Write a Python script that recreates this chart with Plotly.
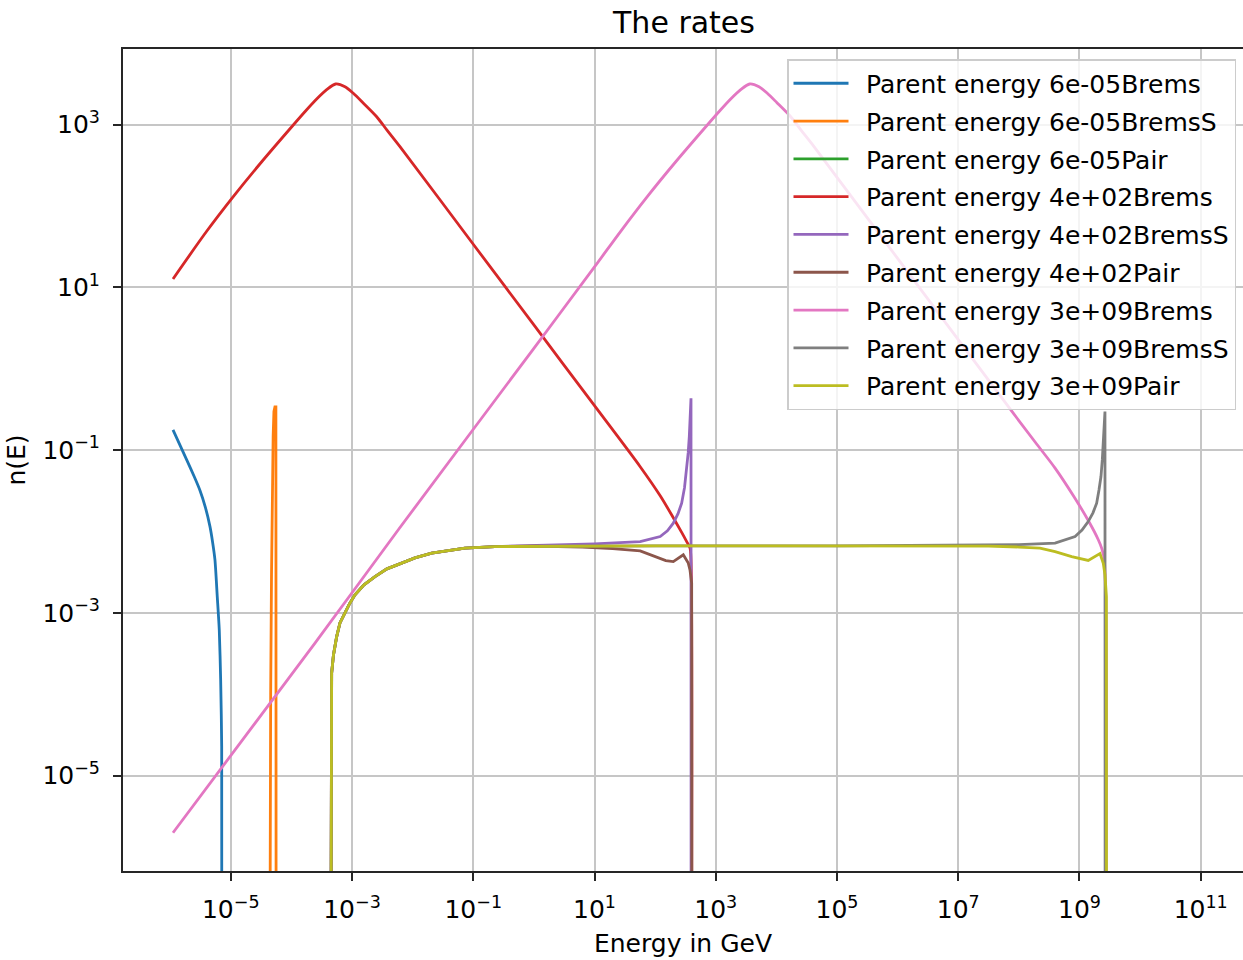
import plotly.graph_objects as go

# ---- spectra: energy (GeV) and n(E) for each parent energy / process ----
brems_6e05_E = [1.114e-6, 1.875e-6, 2.512e-6, 3.105e-6, 3.80e-6, 4.539e-6, 5.012e-6, 5.483e-6, 5.984e-6,
                6.457e-6, 6.808e-6, 7.079e-6, 7.112e-6]
brems_6e05_n = [0.1774, 0.0760, 0.0468, 0.0320, 0.0200, 0.01151, 7.41e-3, 4.487e-3, 1.589e-3,
                6.19e-4, 1.507e-4, 2.29e-5, 1e-8]

bremsS_6e05_E = [4.40e-5, 4.45e-5, 4.55e-5, 4.70e-5, 4.85e-5, 5.00e-5, 5.15e-5, 5.35e-5, 5.55e-5, 5.60e-5]
bremsS_6e05_n = [1e-8, 1e-6, 1e-4, 3e-3, 3e-2, 0.15, 0.30, 0.34, 0.34, 1e-8]

# no pair production below threshold: the rate is zero everywhere
pair_6e05_E = [1.114e-6, 7.112e-6]
pair_6e05_n = [0.0, 0.0]

brems_4e02_E = [1.114e-6, 4.0e-6, 1.099e-5, 3.162e-5, 1.074e-4, 1.698e-4, 2.612e-4, 3.819e-4, 5.370e-4,
                7.656e-4, 1.050e-3, 1.514e-3, 2.553e-3, 3.802e-3, 6.18e-3, 0.1, 1.0, 10.0, 56.75, 121.3,
                199.5, 274.2, 331.9, 375.8, 390.8, 398.1]
brems_4e02_n = [12.71, 48.98, 130.6, 342.8, 990.8, 1462, 2065, 2692, 3162,
                2931, 2432, 1862, 1253, 851.1, 537.0, 33.96, 3.459, 0.3524, 0.06266, 0.02754,
                0.01479, 9.772e-3, 7.53e-3, 6.310e-3, 4.467e-3, 1e-8]

# common low-energy onset of the pair / BremsS spectra
onset_E = [4.467e-4, 4.550e-4, 4.613e-4, 4.943e-4, 5.585e-4, 6.324e-4, 7.656e-4, 9.078e-4, 1.119e-3,
           1.574e-3, 2.393e-3, 3.767e-3, 6.592e-3, 0.01091, 0.02061, 0.03819, 0.07295, 0.2280]
onset_n = [1e-8, 3.162e-5, 1.820e-4, 3.048e-4, 5.129e-4, 7.551e-4, 9.954e-4, 1.294e-3, 1.667e-3,
           2.213e-3, 2.799e-3, 3.483e-3, 4.093e-3, 4.753e-3, 5.433e-3, 5.875e-3, 6.252e-3, 6.546e-3]

bremsS_4e02_E = onset_E + [1.0, 10.0, 56.75, 121.3, 159.6, 199.5, 238.8, 274.2, 305.5, 331.9, 351.6,
                           366.4, 386.4, 390.8, 392.6]
bremsS_4e02_n = onset_n + [6.761e-3, 7.079e-3, 7.534e-3, 8.690e-3, 0.01023, 0.01268, 0.01660, 0.02234,
                           0.03467, 0.05728, 0.09333, 0.1469, 0.3776, 0.4355, 1e-8]

pair_4e02_E = onset_E + [1.0, 6.31, 19.95, 56.75, 100.0, 150.0, 199.5, 257.0, 291.7, 352.4, 375.8, 400.9, 403.6]
pair_4e02_n = onset_n + [6.637e-3, 6.457e-3, 6.166e-3, 5.781e-3, 4.90e-3, 4.40e-3, 4.276e-3, 4.786e-3, 5.176e-3,
                         4.093e-3, 3.388e-3, 2.323e-3, 1e-8]

brems_3e09_E = [1.114e-6, 2.449e-4, 6.18e-3, 1.0, 10.0, 27.04, 74.3, 213.8, 726.1, 1148, 1766, 2582, 3631,
                5176, 7096, 10230, 17260, 25700, 41780, 1.0e6, 8.091e7, 1.995e8, 3.963e8, 7.943e8,
                1.413e9, 2.046e9, 2.323e9, 2.564e9, 2.661e9]
brems_3e09_n = [1.991e-6, 4.256e-4, 0.01122, 1.786, 17.86, 48.98, 130.6, 342.8, 990.8, 1462, 2065, 2692, 3162,
                2931, 2432, 1862, 1253, 851.1, 537.0, 22.75, 0.2851, 0.1175, 0.06026, 0.02754,
                0.01349, 7.943e-3, 6.252e-3, 4.519e-3, 1e-8]

bremsS_3e09_E = onset_E + [100.0, 1e5, 3.162e7, 1e8, 3.963e8, 8.472e8, 1.102e9, 1.396e9, 1.671e9, 1.923e9,
                           2.099e9, 2.265e9, 2.382e9, 2.472e9, 2.636e9, 2.655e9]
bremsS_3e09_n = onset_n + [6.683e-3, 6.683e-3, 6.839e-3, 6.918e-3, 7.211e-3, 8.690e-3, 0.01042, 0.01327,
                           0.01698, 0.02234, 0.03251, 0.04742, 0.07603, 0.1219, 0.2979, 1e-8]

pair_3e09_E = onset_E + [3.162, 100.0, 1e4, 1e6, 3.162e7, 1e8, 2.234e8, 3.963e8, 7.447e8, 1.396e9,
                         1.923e9, 2.183e9, 2.472e9, 2.636e9, 2.786e9, 2.799e9]
pair_3e09_n = onset_n + [6.637e-3, 6.683e-3, 6.683e-3, 6.683e-3, 6.607e-3, 6.457e-3, 6.252e-3, 5.675e-3,
                         4.932e-3, 4.416e-3, 5.129e-3, 5.370e-3, 4.074e-3, 2.951e-3, 1.585e-3, 1e-8]

# (label, energies, rates, colour, smoothing; 0 = straight segments)
series = [
    ("Parent energy 6e-05Brems", brems_6e05_E, brems_6e05_n, "#1f77b4", 0.6),
    ("Parent energy 6e-05BremsS", bremsS_6e05_E, bremsS_6e05_n, "#ff7f0e", 0),
    ("Parent energy 6e-05Pair", pair_6e05_E, pair_6e05_n, "#2ca02c", 0),
    ("Parent energy 4e+02Brems", brems_4e02_E, brems_4e02_n, "#d62728", 0.8),
    ("Parent energy 4e+02BremsS", bremsS_4e02_E, bremsS_4e02_n, "#9467bd", 0),
    ("Parent energy 4e+02Pair", pair_4e02_E, pair_4e02_n, "#8c564b", 0),
    ("Parent energy 3e+09Brems", brems_3e09_E, brems_3e09_n, "#e377c2", 0.8),
    ("Parent energy 3e+09BremsS", bremsS_3e09_E, bremsS_3e09_n, "#7f7f7f", 0),
    ("Parent energy 3e+09Pair", pair_3e09_E, pair_3e09_n, "#bcbd22", 0),
]

x_tick_exp = [-5, -3, -1, 1, 3, 5, 7, 9, 11]
y_tick_exp = [-5, -3, -1, 1, 3]


def sci_label(e):
    s = str(e).replace("-", "\u2212")
    return f"10<sup>{s}</sup>"


W, H = 1243, 960
FONT = "DejaVu Sans"
AX = "#262626"

fig = go.Figure()
for i, (name, xs, ys, col, smooth) in enumerate(series):
    line = dict(color=col, width=2.8)
    if smooth:
        line.update(shape="spline", smoothing=smooth)
    fig.add_trace(go.Scatter(x=xs, y=ys, mode="lines", name="\u2002" + name,
                             legendgroup=f"g{i}", line=line))

axis_common = dict(
    type="log",
    showgrid=True, gridcolor="#c6c6c6", gridwidth=1.6,
    showline=True, linecolor=AX, linewidth=2,
    ticks="outside", ticklen=8, tickwidth=2, tickcolor=AX,
    tickfont=dict(family=FONT, size=25, color="#000"),
    zeroline=False,
)

fig.update_layout(
    width=W, height=H,
    margin=dict(l=123, r=0, t=49, b=89),
    paper_bgcolor="white", plot_bgcolor="white",
    font=dict(family=FONT, size=25, color="#000"),
    title=dict(text="The rates", x=684 / W, xanchor="center", xref="container",
               y=1 - 22 / H, yanchor="middle", yref="container",
               font=dict(family=FONT, size=30, color="#000")),
    xaxis=dict(axis_common, range=[-6.778, 11.698], mirror=True,
               tickvals=[10.0 ** e for e in x_tick_exp],
               ticktext=[sci_label(e) for e in x_tick_exp],
               ticklabelstandoff=7,
               title=dict(text="Energy in GeV", standoff=11,
                          font=dict(family=FONT, size=25, color="#000"))),
    yaxis=dict(axis_common, range=[-6.171, 3.93], mirror=False,
               tickvals=[10.0 ** e for e in y_tick_exp],
               ticktext=[sci_label(e) for e in y_tick_exp],
               ticklabelstandoff=8,
               title=dict(text="n(E)", standoff=10,
                          font=dict(family=FONT, size=25, color="#000"))),
    legend=dict(x=(1236 - 123) / 1120, xanchor="right", y=(871 - 59) / 822, yanchor="top",
                bgcolor="rgba(255,255,255,0.8)", bordercolor="#cccccc", borderwidth=1.5,
                font=dict(family=FONT, size=25, color="#000"),
                itemwidth=55, tracegroupgap=2.3, traceorder="grouped"),
    showlegend=True,
)

fig.write_html("out.html")
